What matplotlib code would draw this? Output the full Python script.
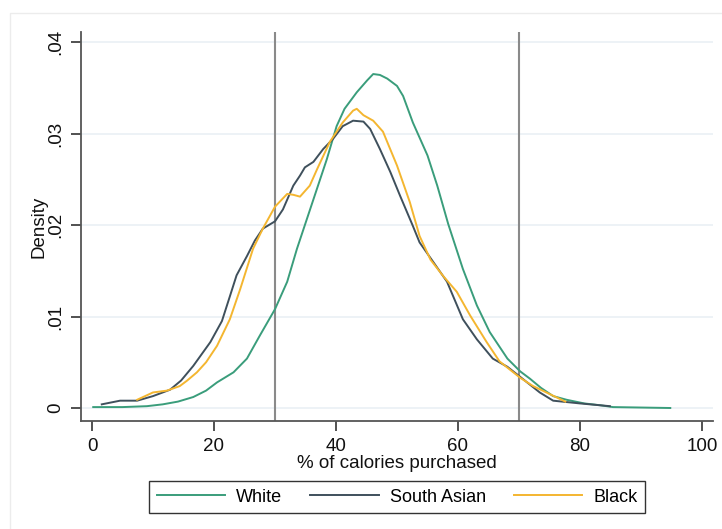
import matplotlib.pyplot as plt
from matplotlib.patches import Rectangle

plt.rcParams['font.family'] = ['Liberation Sans', 'DejaVu Sans']

# kernel density of % of calories purchased, by ethnic group
white_x = [0.2, 5.0, 9.0, 11.6, 14.1, 16.6, 18.7, 20.5, 23.2, 25.4, 27.5, 30.0,
           32.0, 33.6, 36.3, 38.5, 40.1, 41.4, 43.4, 45.1, 46.1, 47.2, 48.4,
           50.0, 51.0, 52.6, 55.0, 56.6, 58.4, 60.8, 63.1, 65.2, 68.1, 70.2,
           71.8, 73.6, 75.6, 77.8, 80.7, 83.3, 85.4, 94.8]
white_y = [0.0001, 0.0001, 0.0002, 0.0004, 0.0007, 0.0012, 0.0019, 0.0028, 0.0039,
           0.0054, 0.0079, 0.0108, 0.0138, 0.0174, 0.0228, 0.0272, 0.0308, 0.0327,
           0.0345, 0.0358, 0.0365, 0.0364, 0.036, 0.0352, 0.0341, 0.0312, 0.0276,
           0.0243, 0.0201, 0.0152, 0.0112, 0.0083, 0.0054, 0.004, 0.0032, 0.0022,
           0.0013, 0.0009, 0.0005, 0.0003, 0.0001, 0.0]

sasian_x = [1.6, 4.6, 7.4, 10.0, 12.8, 14.6, 16.6, 19.4, 21.3, 22.6, 23.7, 25.4,
            26.7, 28.0, 30.0, 31.3, 33.0, 34.1, 34.9, 36.3, 37.9, 39.5, 41.1,
            42.8, 44.5, 45.6, 47.2, 48.9, 50.5, 52.6, 53.7, 55.9, 58.2, 60.8,
            63.1, 65.7, 68.1, 70.2, 73.4, 75.6, 80.0, 84.9]
sasian_y = [0.0004, 0.0008, 0.0008, 0.0013, 0.002, 0.003, 0.0046, 0.0072, 0.0095,
            0.0122, 0.0145, 0.0166, 0.0183, 0.0196, 0.0204, 0.0217, 0.0243, 0.0254,
            0.0263, 0.0269, 0.0283, 0.0294, 0.0308, 0.0314, 0.0313, 0.0305, 0.0283,
            0.0258, 0.0232, 0.0199, 0.0181, 0.016, 0.0138, 0.0097, 0.0075, 0.0054,
            0.0045, 0.0034, 0.0017, 0.0008, 0.0005, 0.0002]

black_x = [7.4, 10.0, 12.3, 14.4, 15.6, 17.2, 18.7, 20.5, 22.6, 24.3, 26.4, 28.0,
           30.0, 32.0, 33.0, 34.1, 35.7, 36.9, 39.0, 41.1, 42.8, 43.4, 44.5,
           46.1, 47.7, 50.0, 52.1, 53.7, 55.5, 57.6, 59.8, 62.0, 64.7, 66.8,
           70.2, 72.3, 75.1, 77.6]
black_y = [0.0009, 0.0017, 0.0019, 0.0024, 0.003, 0.0039, 0.005, 0.0068, 0.0097,
           0.013, 0.0174, 0.0196, 0.022, 0.0234, 0.0233, 0.0231, 0.0243, 0.0261,
           0.0291, 0.0312, 0.0325, 0.0327, 0.032, 0.0314, 0.0302, 0.0265, 0.0225,
           0.0188, 0.0162, 0.0144, 0.0127, 0.0101, 0.0072, 0.0051, 0.0033, 0.0024,
           0.0015, 0.0007]

xticks = [0, 20, 40, 60, 80, 100]
yticks = [0, 0.01, 0.02, 0.03, 0.04]
ytick_labels = ['0', '.01', '.02', '.03', '.04']
cutoffs = [30, 70]

fig = plt.figure(figsize=(7.22, 5.29), dpi=100)
fig.patches.append(Rectangle((10 / 722, -0.1), 1.2, 1.1 - 13 / 529,
                             transform=fig.transFigure, fill=False,
                             edgecolor='#ececec', linewidth=1))
ax = fig.add_axes([81 / 722, 1 - 421 / 529, 632 / 722, 389 / 529])

ax.set_xlim(-11 / 6.1, 621 / 6.1)
ax.set_ylim(-13 / 9150, 376 / 9150)

for y in yticks:
    ax.axhline(y, color='#eaf0f5', linewidth=1.2, zorder=0)
for c in cutoffs:
    ax.axvline(c, color='#8a8a8a', linewidth=1.5, zorder=1)

ax.plot(white_x, white_y, color='#3a9d7b', linewidth=1.4, label='White')
ax.plot(sasian_x, sasian_y, color='#3f505c', linewidth=1.4, label='South Asian')
ax.plot(black_x, black_y, color='#f4b630', linewidth=1.4, label='Black')

for s in ['top', 'right']:
    ax.spines[s].set_visible(False)
for s in ['left', 'bottom']:
    ax.spines[s].set_color('#555555')
    ax.spines[s].set_linewidth(1.3)

ax.set_xticks(xticks)
ax.set_yticks(yticks)
ax.set_yticklabels(ytick_labels, rotation=90, va='center')
ax.tick_params(axis='both', length=7, width=1.2, color='#333333',
               labelsize=13.5, labelcolor='#111111', pad=5)

ax.set_xlabel('% of calories purchased', fontsize=13.5, color='#111111', labelpad=0)
ax.set_ylabel('Density', fontsize=13.5, color='#111111', labelpad=0)

leg = fig.legend(loc='center', bbox_to_anchor=(397 / 722, 1 - 497 / 529), ncol=3,
                 frameon=True, fancybox=False, edgecolor='black', fontsize=13,
                 handlelength=3.8, columnspacing=1.55, borderpad=0.4,
                 handletextpad=0.6)
leg.get_frame().set_linewidth(1.0)

fig.savefig('out.png', dpi=100)
